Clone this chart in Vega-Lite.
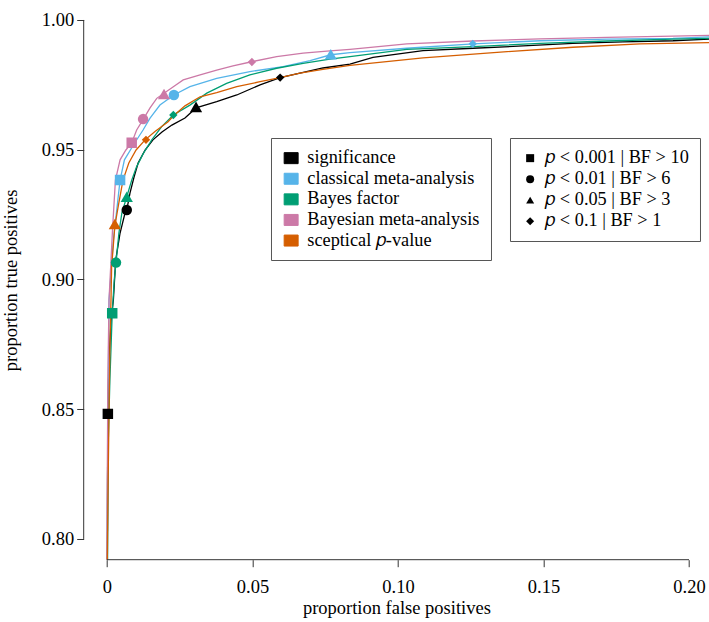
{
  "$schema": "https://vega.github.io/schema/vega-lite/v6.json",
  "width": 625.4,
  "height": 559.7,
  "autosize": {"type": "none"},
  "padding": {"left": 83.7, "top": 0, "right": 0, "bottom": 62.3},
  "background": "white",
  "config": {
    "view": {"stroke": null},
    "font": "Liberation Serif",
    "axis": {
      "domain": false, "grid": false, "tickColor": "#333333", "tickSize": 7, "tickWidth": 1,
      "labelFont": "Liberation Serif", "labelFontSize": 18.5, "labelColor": "#000000",
      "titleFont": "Liberation Serif", "titleFontSize": 18.5, "titleFontWeight": "normal", "titleColor": "#000000"
    },
    "legend": {
      "labelFont": "Liberation Serif", "labelFontSize": 18.3, "labelColor": "#000000", "labelLimit": 400,
      "strokeColor": "#555555", "fillColor": "white", "cornerRadius": 0
    }
  },
  "datasets": {
    "curves": [
      {"method": "significance", "fpr": 0.0001, "tpr": 0.7896},
      {"method": "significance", "fpr": 0.0002, "tpr": 0.8227},
      {"method": "significance", "fpr": 0.0003, "tpr": 0.8482},
      {"method": "significance", "fpr": 0.0007, "tpr": 0.8690},
      {"method": "significance", "fpr": 0.0014, "tpr": 0.8844},
      {"method": "significance", "fpr": 0.0022, "tpr": 0.8921},
      {"method": "significance", "fpr": 0.0030, "tpr": 0.9075},
      {"method": "significance", "fpr": 0.0045, "tpr": 0.9179},
      {"method": "significance", "fpr": 0.0062, "tpr": 0.9256},
      {"method": "significance", "fpr": 0.0068, "tpr": 0.9268},
      {"method": "significance", "fpr": 0.0079, "tpr": 0.9333},
      {"method": "significance", "fpr": 0.0093, "tpr": 0.9395},
      {"method": "significance", "fpr": 0.0107, "tpr": 0.9449},
      {"method": "significance", "fpr": 0.0131, "tpr": 0.9499},
      {"method": "significance", "fpr": 0.0158, "tpr": 0.9538},
      {"method": "significance", "fpr": 0.0189, "tpr": 0.9568},
      {"method": "significance", "fpr": 0.0223, "tpr": 0.9595},
      {"method": "significance", "fpr": 0.0268, "tpr": 0.9622},
      {"method": "significance", "fpr": 0.0306, "tpr": 0.9661},
      {"method": "significance", "fpr": 0.0377, "tpr": 0.9685},
      {"method": "significance", "fpr": 0.0446, "tpr": 0.9711},
      {"method": "significance", "fpr": 0.0526, "tpr": 0.9750},
      {"method": "significance", "fpr": 0.0595, "tpr": 0.9778},
      {"method": "significance", "fpr": 0.0663, "tpr": 0.9795},
      {"method": "significance", "fpr": 0.0742, "tpr": 0.9815},
      {"method": "significance", "fpr": 0.0835, "tpr": 0.9830},
      {"method": "significance", "fpr": 0.0914, "tpr": 0.9856},
      {"method": "significance", "fpr": 0.1086, "tpr": 0.9882},
      {"method": "significance", "fpr": 0.1258, "tpr": 0.9891},
      {"method": "significance", "fpr": 0.1430, "tpr": 0.9900},
      {"method": "significance", "fpr": 0.1601, "tpr": 0.9910},
      {"method": "significance", "fpr": 0.1773, "tpr": 0.9916},
      {"method": "significance", "fpr": 0.1945, "tpr": 0.9920},
      {"method": "significance", "fpr": 0.2089, "tpr": 0.9927},

      {"method": "classical meta-analysis", "fpr": 0.0001, "tpr": 0.7896},
      {"method": "classical meta-analysis", "fpr": 0.0002, "tpr": 0.8227},
      {"method": "classical meta-analysis", "fpr": 0.0004, "tpr": 0.8536},
      {"method": "classical meta-analysis", "fpr": 0.0007, "tpr": 0.8921},
      {"method": "classical meta-analysis", "fpr": 0.0022, "tpr": 0.9152},
      {"method": "classical meta-analysis", "fpr": 0.0045, "tpr": 0.9383},
      {"method": "classical meta-analysis", "fpr": 0.0060, "tpr": 0.9461},
      {"method": "classical meta-analysis", "fpr": 0.0095, "tpr": 0.9526},
      {"method": "classical meta-analysis", "fpr": 0.0124, "tpr": 0.9576},
      {"method": "classical meta-analysis", "fpr": 0.0148, "tpr": 0.9622},
      {"method": "classical meta-analysis", "fpr": 0.0182, "tpr": 0.9672},
      {"method": "classical meta-analysis", "fpr": 0.0230, "tpr": 0.9711},
      {"method": "classical meta-analysis", "fpr": 0.0285, "tpr": 0.9743},
      {"method": "classical meta-analysis", "fpr": 0.0377, "tpr": 0.9775},
      {"method": "classical meta-analysis", "fpr": 0.0491, "tpr": 0.9801},
      {"method": "classical meta-analysis", "fpr": 0.0605, "tpr": 0.9820},
      {"method": "classical meta-analysis", "fpr": 0.0698, "tpr": 0.9843},
      {"method": "classical meta-analysis", "fpr": 0.0769, "tpr": 0.9866},
      {"method": "classical meta-analysis", "fpr": 0.0835, "tpr": 0.9874},
      {"method": "classical meta-analysis", "fpr": 0.1030, "tpr": 0.9891},
      {"method": "classical meta-analysis", "fpr": 0.1258, "tpr": 0.9908},
      {"method": "classical meta-analysis", "fpr": 0.1488, "tpr": 0.9920},
      {"method": "classical meta-analysis", "fpr": 0.1718, "tpr": 0.9926},
      {"method": "classical meta-analysis", "fpr": 0.1945, "tpr": 0.9929},
      {"method": "classical meta-analysis", "fpr": 0.2089, "tpr": 0.9936},

      {"method": "Bayes factor", "fpr": 0.0002, "tpr": 0.7896},
      {"method": "Bayes factor", "fpr": 0.0004, "tpr": 0.8356},
      {"method": "Bayes factor", "fpr": 0.0010, "tpr": 0.8613},
      {"method": "Bayes factor", "fpr": 0.0018, "tpr": 0.8870},
      {"method": "Bayes factor", "fpr": 0.0025, "tpr": 0.8998},
      {"method": "Bayes factor", "fpr": 0.0031, "tpr": 0.9065},
      {"method": "Bayes factor", "fpr": 0.0041, "tpr": 0.9179},
      {"method": "Bayes factor", "fpr": 0.0051, "tpr": 0.9256},
      {"method": "Bayes factor", "fpr": 0.0068, "tpr": 0.9319},
      {"method": "Bayes factor", "fpr": 0.0085, "tpr": 0.9383},
      {"method": "Bayes factor", "fpr": 0.0102, "tpr": 0.9435},
      {"method": "Bayes factor", "fpr": 0.0125, "tpr": 0.9486},
      {"method": "Bayes factor", "fpr": 0.0154, "tpr": 0.9538},
      {"method": "Bayes factor", "fpr": 0.0188, "tpr": 0.9589},
      {"method": "Bayes factor", "fpr": 0.0228, "tpr": 0.9634},
      {"method": "Bayes factor", "fpr": 0.0285, "tpr": 0.9672},
      {"method": "Bayes factor", "fpr": 0.0343, "tpr": 0.9718},
      {"method": "Bayes factor", "fpr": 0.0411, "tpr": 0.9756},
      {"method": "Bayes factor", "fpr": 0.0491, "tpr": 0.9788},
      {"method": "Bayes factor", "fpr": 0.0583, "tpr": 0.9814},
      {"method": "Bayes factor", "fpr": 0.0674, "tpr": 0.9833},
      {"method": "Bayes factor", "fpr": 0.0766, "tpr": 0.9849},
      {"method": "Bayes factor", "fpr": 0.0835, "tpr": 0.9859},
      {"method": "Bayes factor", "fpr": 0.1030, "tpr": 0.9887},
      {"method": "Bayes factor", "fpr": 0.1258, "tpr": 0.9897},
      {"method": "Bayes factor", "fpr": 0.1488, "tpr": 0.9910},
      {"method": "Bayes factor", "fpr": 0.1718, "tpr": 0.9919},
      {"method": "Bayes factor", "fpr": 0.1945, "tpr": 0.9926},
      {"method": "Bayes factor", "fpr": 0.2089, "tpr": 0.9930},

      {"method": "Bayesian meta-analysis", "fpr": 0.0000, "tpr": 0.7896},
      {"method": "Bayesian meta-analysis", "fpr": 0.0001, "tpr": 0.8227},
      {"method": "Bayesian meta-analysis", "fpr": 0.0003, "tpr": 0.8613},
      {"method": "Bayesian meta-analysis", "fpr": 0.0007, "tpr": 0.8921},
      {"method": "Bayesian meta-analysis", "fpr": 0.0019, "tpr": 0.9191},
      {"method": "Bayesian meta-analysis", "fpr": 0.0029, "tpr": 0.9383},
      {"method": "Bayesian meta-analysis", "fpr": 0.0045, "tpr": 0.9461},
      {"method": "Bayesian meta-analysis", "fpr": 0.0065, "tpr": 0.9499},
      {"method": "Bayesian meta-analysis", "fpr": 0.0085, "tpr": 0.9527},
      {"method": "Bayesian meta-analysis", "fpr": 0.0102, "tpr": 0.9576},
      {"method": "Bayesian meta-analysis", "fpr": 0.0124, "tpr": 0.9616},
      {"method": "Bayesian meta-analysis", "fpr": 0.0148, "tpr": 0.9661},
      {"method": "Bayesian meta-analysis", "fpr": 0.0171, "tpr": 0.9698},
      {"method": "Bayesian meta-analysis", "fpr": 0.0196, "tpr": 0.9718},
      {"method": "Bayesian meta-analysis", "fpr": 0.0228, "tpr": 0.9743},
      {"method": "Bayesian meta-analysis", "fpr": 0.0262, "tpr": 0.9769},
      {"method": "Bayesian meta-analysis", "fpr": 0.0320, "tpr": 0.9788},
      {"method": "Bayesian meta-analysis", "fpr": 0.0377, "tpr": 0.9807},
      {"method": "Bayesian meta-analysis", "fpr": 0.0433, "tpr": 0.9823},
      {"method": "Bayesian meta-analysis", "fpr": 0.0497, "tpr": 0.9839},
      {"method": "Bayesian meta-analysis", "fpr": 0.0583, "tpr": 0.9859},
      {"method": "Bayesian meta-analysis", "fpr": 0.0674, "tpr": 0.9872},
      {"method": "Bayesian meta-analysis", "fpr": 0.0766, "tpr": 0.9881},
      {"method": "Bayesian meta-analysis", "fpr": 0.0835, "tpr": 0.9887},
      {"method": "Bayesian meta-analysis", "fpr": 0.1030, "tpr": 0.9908},
      {"method": "Bayesian meta-analysis", "fpr": 0.1258, "tpr": 0.9919},
      {"method": "Bayesian meta-analysis", "fpr": 0.1488, "tpr": 0.9927},
      {"method": "Bayesian meta-analysis", "fpr": 0.1718, "tpr": 0.9933},
      {"method": "Bayesian meta-analysis", "fpr": 0.1945, "tpr": 0.9938},
      {"method": "Bayesian meta-analysis", "fpr": 0.2089, "tpr": 0.9941},

      {"method": "sceptical 𝑝-value", "fpr": 0.0001, "tpr": 0.7896},
      {"method": "sceptical 𝑝-value", "fpr": 0.0004, "tpr": 0.8227},
      {"method": "sceptical 𝑝-value", "fpr": 0.0007, "tpr": 0.8486},
      {"method": "sceptical 𝑝-value", "fpr": 0.0010, "tpr": 0.8741},
      {"method": "sceptical 𝑝-value", "fpr": 0.0014, "tpr": 0.8934},
      {"method": "sceptical 𝑝-value", "fpr": 0.0016, "tpr": 0.9048},
      {"method": "sceptical 𝑝-value", "fpr": 0.0027, "tpr": 0.9206},
      {"method": "sceptical 𝑝-value", "fpr": 0.0040, "tpr": 0.9290},
      {"method": "sceptical 𝑝-value", "fpr": 0.0055, "tpr": 0.9383},
      {"method": "sceptical 𝑝-value", "fpr": 0.0075, "tpr": 0.9449},
      {"method": "sceptical 𝑝-value", "fpr": 0.0100, "tpr": 0.9499},
      {"method": "sceptical 𝑝-value", "fpr": 0.0131, "tpr": 0.9538},
      {"method": "sceptical 𝑝-value", "fpr": 0.0165, "tpr": 0.9570},
      {"method": "sceptical 𝑝-value", "fpr": 0.0210, "tpr": 0.9608},
      {"method": "sceptical 𝑝-value", "fpr": 0.0228, "tpr": 0.9630},
      {"method": "sceptical 𝑝-value", "fpr": 0.0268, "tpr": 0.9669},
      {"method": "sceptical 𝑝-value", "fpr": 0.0320, "tpr": 0.9704},
      {"method": "sceptical 𝑝-value", "fpr": 0.0377, "tpr": 0.9720},
      {"method": "sceptical 𝑝-value", "fpr": 0.0446, "tpr": 0.9743},
      {"method": "sceptical 𝑝-value", "fpr": 0.0526, "tpr": 0.9762},
      {"method": "sceptical 𝑝-value", "fpr": 0.0595, "tpr": 0.9778},
      {"method": "sceptical 𝑝-value", "fpr": 0.0663, "tpr": 0.9795},
      {"method": "sceptical 𝑝-value", "fpr": 0.0742, "tpr": 0.9810},
      {"method": "sceptical 𝑝-value", "fpr": 0.0835, "tpr": 0.9825},
      {"method": "sceptical 𝑝-value", "fpr": 0.1086, "tpr": 0.9854},
      {"method": "sceptical 𝑝-value", "fpr": 0.1375, "tpr": 0.9878},
      {"method": "sceptical 𝑝-value", "fpr": 0.1601, "tpr": 0.9895},
      {"method": "sceptical 𝑝-value", "fpr": 0.1832, "tpr": 0.9908},
      {"method": "sceptical 𝑝-value", "fpr": 0.2089, "tpr": 0.9913}
    ],
    "markers": [
      {"method": "significance", "threshold": "𝑝 < 0.001 | BF > 10", "fpr": 0.0003, "tpr": 0.8482},
      {"method": "significance", "threshold": "𝑝 < 0.01 | BF > 6", "fpr": 0.0068, "tpr": 0.9268},
      {"method": "significance", "threshold": "𝑝 < 0.05 | BF > 3", "fpr": 0.0306, "tpr": 0.9665},
      {"method": "significance", "threshold": "𝑝 < 0.1 | BF > 1", "fpr": 0.0595, "tpr": 0.9778},
      {"method": "classical meta-analysis", "threshold": "𝑝 < 0.001 | BF > 10", "fpr": 0.0045, "tpr": 0.9383},
      {"method": "classical meta-analysis", "threshold": "𝑝 < 0.01 | BF > 6", "fpr": 0.0230, "tpr": 0.9711},
      {"method": "classical meta-analysis", "threshold": "𝑝 < 0.05 | BF > 3", "fpr": 0.0769, "tpr": 0.9868},
      {"method": "classical meta-analysis", "threshold": "𝑝 < 0.1 | BF > 1", "fpr": 0.1257, "tpr": 0.9908},
      {"method": "Bayes factor", "threshold": "𝑝 < 0.001 | BF > 10", "fpr": 0.0018, "tpr": 0.8870},
      {"method": "Bayes factor", "threshold": "𝑝 < 0.01 | BF > 6", "fpr": 0.0031, "tpr": 0.9065},
      {"method": "Bayes factor", "threshold": "𝑝 < 0.05 | BF > 3", "fpr": 0.0068, "tpr": 0.9319},
      {"method": "Bayes factor", "threshold": "𝑝 < 0.1 | BF > 1", "fpr": 0.0228, "tpr": 0.9634},
      {"method": "Bayesian meta-analysis", "threshold": "𝑝 < 0.001 | BF > 10", "fpr": 0.0085, "tpr": 0.9527},
      {"method": "Bayesian meta-analysis", "threshold": "𝑝 < 0.01 | BF > 6", "fpr": 0.0124, "tpr": 0.9618},
      {"method": "Bayesian meta-analysis", "threshold": "𝑝 < 0.05 | BF > 3", "fpr": 0.0196, "tpr": 0.9715},
      {"method": "Bayesian meta-analysis", "threshold": "𝑝 < 0.1 | BF > 1", "fpr": 0.0498, "tpr": 0.9838},
      {"method": "sceptical 𝑝-value", "threshold": "𝑝 < 0.05 | BF > 3", "fpr": 0.0027, "tpr": 0.9214},
      {"method": "sceptical 𝑝-value", "threshold": "𝑝 < 0.1 | BF > 1", "fpr": 0.0134, "tpr": 0.9538}
    ]
  },
  "encoding": {
    "x": {"type": "quantitative", "scale": {"domain": [-0.008, 0.2069], "nice": false, "zero": false},
      "axis": {"values": [0, 0.05, 0.1, 0.15, 0.2], "labelExpr": "datum.value == 0 ? '0' : format(datum.value, '.2f')", "title": "proportion false positives", "labelPadding": 11, "titlePadding": 2, "labelFlush": false}},
    "y": {"type": "quantitative", "scale": {"domain": [0.792, 1.0077], "nice": false, "zero": false},
      "axis": {"values": [0.8, 0.85, 0.9, 0.95, 1.0], "format": ".2f", "title": "proportion true positives", "labelPadding": 3, "titlePadding": 21, "labelFlush": false}}
  },
  "layer": [
    {
      "data": {"name": "curves"},
      "mark": {"type": "line", "strokeWidth": 1.3, "clip": true},
      "encoding": {
        "x": {"field": "fpr", "type": "quantitative", "scale": {"domain": [-0.008, 0.2069], "nice": false, "zero": false},
          "axis": {"values": [0, 0.05, 0.1, 0.15, 0.2], "labelExpr": "datum.value == 0 ? '0' : format(datum.value, '.2f')", "title": "proportion false positives", "labelPadding": 11, "titlePadding": 2, "labelFlush": false}},
        "y": {"field": "tpr", "type": "quantitative", "scale": {"domain": [0.792, 1.0077], "nice": false, "zero": false},
          "axis": {"values": [0.8, 0.85, 0.9, 0.95, 1.0], "format": ".2f", "title": "proportion true positives", "labelPadding": 3, "titlePadding": 21, "labelFlush": false}},
        "color": {"field": "method", "type": "nominal",
          "scale": {"domain": ["significance", "classical meta-analysis", "Bayes factor", "Bayesian meta-analysis", "sceptical 𝑝-value"],
                    "range": ["#000000", "#56B4E9", "#009E73", "#CC79A7", "#D55E00"]},
          "legend": {"orient": "none", "legendX": 187.3, "legendY": 138, "title": null, "padding": 11,
            "symbolType": "square", "symbolSize": 121, "rowPadding": 1.6, "labelOffset": 7,
            "labelExpr": "datum.label + '\u00a0\u2009'",
            "encode": {"symbols": {"update": {"fill": {"scale": "color", "field": "value"}, "stroke": {"value": "black"}, "strokeWidth": {"value": 1}, "shape": {"value": "M-1.27,-1H1.27V1H-1.27Z"}, "opacity": {"value": 1}}}}}},
        "order": {"field": "tpr", "type": "quantitative"}
      }
    },
    {
      "data": {"name": "markers"},
      "transform": [{"filter": "indexof(datum.threshold, '0.001 |') >= 0 || indexof(datum.threshold, '0.01 |') >= 0"}],
      "mark": {"type": "point", "filled": true, "opacity": 1, "clip": true, "size": 110},
      "encoding": {
        "x": {"field": "fpr"},
        "y": {"field": "tpr"},
        "color": {"field": "method", "type": "nominal", "legend": null},
        "shape": {"field": "threshold", "type": "nominal",
          "scale": {"domain": ["𝑝 < 0.001 | BF > 10", "𝑝 < 0.01 | BF > 6", "𝑝 < 0.05 | BF > 3", "𝑝 < 0.1 | BF > 1"],
                    "range": ["square", "circle", "triangle-up", "diamond"]},
          "legend": {"orient": "none", "legendX": 426.3, "legendY": 138, "title": null, "padding": 11,
            "symbolSize": 64, "rowPadding": 2, "labelOffset": 6,
            "encode": {"symbols": {"update": {"fill": {"value": "black"}, "stroke": {"value": "black"}, "strokeWidth": {"value": 0}, "opacity": {"value": 1}}}}}}
      }
    },
    {
      "data": {"name": "markers"},
      "transform": [{"filter": "indexof(datum.threshold, '0.05 |') >= 0"}],
      "mark": {"type": "point", "filled": true, "opacity": 1, "clip": true, "size": 150},
      "encoding": {
        "x": {"field": "fpr"},
        "y": {"field": "tpr"},
        "color": {"field": "method", "type": "nominal", "legend": null},
        "shape": {"field": "threshold", "type": "nominal",
          "scale": {"domain": ["𝑝 < 0.001 | BF > 10", "𝑝 < 0.01 | BF > 6", "𝑝 < 0.05 | BF > 3", "𝑝 < 0.1 | BF > 1"],
                    "range": ["square", "circle", "triangle-up", "diamond"]},
          "legend": {"orient": "none", "legendX": 426.3, "legendY": 138, "title": null, "padding": 11,
            "symbolSize": 64, "rowPadding": 2, "labelOffset": 6,
            "encode": {"symbols": {"update": {"fill": {"value": "black"}, "stroke": {"value": "black"}, "strokeWidth": {"value": 0}, "opacity": {"value": 1}}}}}}
      }
    },
    {
      "data": {"name": "markers"},
      "transform": [{"filter": "indexof(datum.threshold, '0.1 |') >= 0"}],
      "mark": {"type": "point", "filled": true, "opacity": 1, "clip": true, "size": 70},
      "encoding": {
        "x": {"field": "fpr"},
        "y": {"field": "tpr"},
        "color": {"field": "method", "type": "nominal", "legend": null},
        "shape": {"field": "threshold", "type": "nominal",
          "scale": {"domain": ["𝑝 < 0.001 | BF > 10", "𝑝 < 0.01 | BF > 6", "𝑝 < 0.05 | BF > 3", "𝑝 < 0.1 | BF > 1"],
                    "range": ["square", "circle", "triangle-up", "diamond"]},
          "legend": {"orient": "none", "legendX": 426.3, "legendY": 138, "title": null, "padding": 11,
            "symbolSize": 64, "rowPadding": 2, "labelOffset": 6,
            "encode": {"symbols": {"update": {"fill": {"value": "black"}, "stroke": {"value": "black"}, "strokeWidth": {"value": 0}, "opacity": {"value": 1}}}}}}
      }
    },
    {
      "data": {"values": [{}]},
      "mark": {"type": "rule", "color": "#333333", "strokeWidth": 1, "clip": false},
      "encoding": {
        "x": {"datum": 0},
        "x2": {"datum": 0.2},
        "y": {"datum": 0.792}
      }
    },
    {
      "data": {"values": [{}]},
      "mark": {"type": "rule", "color": "#333333", "strokeWidth": 1, "clip": false},
      "encoding": {
        "x": {"datum": -0.008},
        "y": {"datum": 0.8},
        "y2": {"datum": 1.0}
      }
    }
  ]
}
